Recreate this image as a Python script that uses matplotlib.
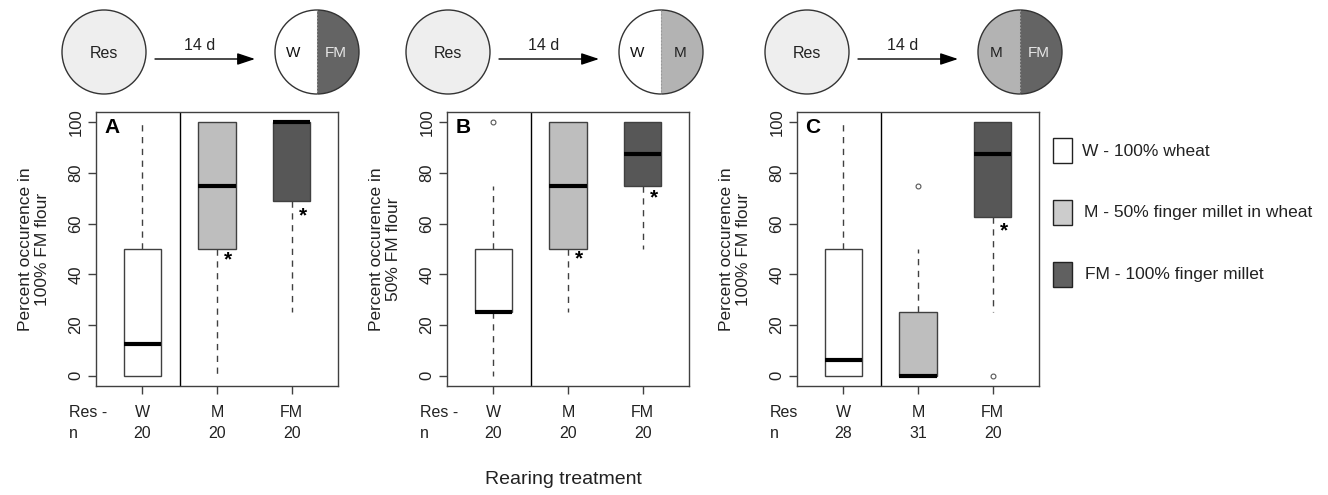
import matplotlib
matplotlib.use('Agg')
import matplotlib.pyplot as plt
from matplotlib import patches
import matplotlib.transforms as mtransforms

plt.rcParams['font.family'] = ['Liberation Sans', 'DejaVu Sans']

# ---- data ----
groups = ['W', 'M', 'FM']
panel_letters = ['A', 'B', 'C']
ylabels = ['Percent occurence in\n100% FM flour',
           'Percent occurence in\n50% FM flour',
           'Percent occurence in\n100% FM flour']
res_labels = ['Res -', 'Res -', 'Res']
target_labels = [('W', 'FM'), ('W', 'M'), ('M', 'FM')]

n_A = [20, 20, 20]
n_B = [20, 20, 20]
n_C = [28, 31, 20]

a_whislo = [0, 0, 25]
a_q1 = [0, 50, 68.75]
a_med = [12.5, 75, 100]
a_q3 = [50, 100, 100]
a_whishi = [100, 100, 100]
a_fliers = [[], [], []]
a_star = [None, 45.7, 63]

b_whislo = [0, 25, 50]
b_q1 = [25, 50, 75]
b_med = [25, 75, 87.5]
b_q3 = [50, 100, 100]
b_whishi = [75, 100, 100]
b_fliers = [[100], [], []]
b_star = [None, 46, 70]

c_whislo = [0, 0, 25]
c_q1 = [0, 0, 62.5]
c_med = [6.25, 0, 87.5]
c_q3 = [50, 25, 100]
c_whishi = [100, 50, 100]
c_fliers = [[], [75], [0]]
c_star = [None, None, 57]

legend_labels = ['W - 100% wheat', 'M - 50% finger millet in wheat',
                 'FM - 100% finger millet']

# ---- styles ----
box_colors = {'W': 'white', 'M': '#bebebe', 'FM': '#575757'}
legend_colors = ['white', '#cccccc', '#606060']
circle_colors = {'W': 'white', 'M': '#b3b3b3', 'FM': '#646464'}
circle_text = {'W': '#111111', 'M': '#222222', 'FM': '#e6e6e6'}
edge = '#404040'

W, H = 1328, 495
fig = plt.figure(figsize=(W / 100, H / 100), dpi=100)

# pixel overlay for the schematic and legend
ov = fig.add_axes([0, 0, 1, 1])
ov.set_xlim(0, W)
ov.set_ylim(H, 0)
ov.axis('off')

panel_left = [96, 447, 797]
panel_w = 242
ax_top, ax_bot = 112, 386
res_x = [104, 448, 807]

panels = [
    (a_whislo, a_q1, a_med, a_q3, a_whishi, a_fliers, a_star, n_A),
    (b_whislo, b_q1, b_med, b_q3, b_whishi, b_fliers, b_star, n_B),
    (c_whislo, c_q1, c_med, c_q3, c_whishi, c_fliers, c_star, n_C),
]

for p, (wlo, q1, med, q3, whi, fl, star, nn) in enumerate(panels):
    ax = fig.add_axes([panel_left[p] / W, (H - ax_bot) / H,
                       panel_w / W, (ax_bot - ax_top) / H])
    stats = [dict(whislo=wlo[i], q1=q1[i], med=med[i], q3=q3[i],
                  whishi=whi[i], fliers=fl[i]) for i in range(3)]
    bp = ax.bxp(stats, positions=[1, 2, 3], widths=0.5, patch_artist=True,
                showcaps=False,
                boxprops=dict(edgecolor=edge, linewidth=1),
                whiskerprops=dict(color=edge, linewidth=1, linestyle=(0, (4.5, 4))),
                medianprops=dict(color='black', linewidth=3,
                                 solid_capstyle='butt'),
                flierprops=dict(marker='o', markersize=3.5,
                                markerfacecolor='white',
                                markeredgecolor='#555555',
                                markeredgewidth=0.8))
    for patch, g in zip(bp['boxes'], groups):
        patch.set_facecolor(box_colors[g])
    ax.axvline(1.5, color='black', linewidth=1)
    ax.set_xlim(0.38, 3.62)
    ax.set_ylim(-4, 104)
    ax.set_yticks([0, 20, 40, 60, 80, 100])
    ax.set_xticks([1, 2, 3])
    ax.set_xticklabels([])
    ax.tick_params(axis='both', length=6, width=1, color=edge,
                   labelsize=12, pad=3, labelcolor='#222222')
    ax.tick_params(axis='y', labelrotation=90)
    for lab in ax.get_yticklabels():
        lab.set_va('center')
    for s in ax.spines.values():
        s.set_color(edge)
        s.set_linewidth(1)
    ax.set_ylabel(ylabels[p], fontsize=12.5, linespacing=1.15,
                  color='#222222')
    ax.yaxis.set_label_coords(-0.19, 0.5)
    ax.text(0.035, 0.945, panel_letters[p], transform=ax.transAxes,
            fontsize=15, fontweight='bold', ha='left', va='center')
    for i in range(3):
        if star[i] is not None:
            ax.text(i + 1.15, star[i], '*', fontsize=15, fontweight='bold',
                    ha='center', va='center')
    tr = mtransforms.blended_transform_factory(ax.transData, ax.transAxes)
    ax.text(0.02, -0.095, res_labels[p], transform=tr, fontsize=11.5,
            ha='left', va='center', color='#222222')
    ax.text(0.02, -0.172, 'n', transform=tr, fontsize=11.5,
            ha='left', va='center', color='#222222')
    for i, g in enumerate(groups):
        ax.text(i + 1, -0.095, g, transform=tr, fontsize=11.5,
                ha='center', va='center', color='#222222')
        ax.text(i + 1, -0.172, str(nn[i]), transform=tr, fontsize=11.5,
                ha='center', va='center', color='#222222')

    # schematic above the panel
    cx, cy, r = res_x[p], 52, 42
    ov.add_patch(patches.Circle((cx, cy), r, facecolor='#eeeeee',
                                edgecolor='#333333', linewidth=1))
    ov.text(cx, cy + 1, 'Res', fontsize=11.5, ha='center', va='center',
            color='#222222')
    ov.add_patch(patches.FancyArrowPatch(
        (cx + 51, 59), (cx + 151, 59),
        arrowstyle='-|>,head_length=0.6,head_width=0.2',
        mutation_scale=18, color='black', linewidth=1, shrinkA=0, shrinkB=0))
    ov.text(cx + 96, 45, '14 d', fontsize=11.5, ha='center', va='center',
            color='#222222')
    tx = cx + 213
    lg, rg = target_labels[p]
    ov.add_patch(patches.Wedge((tx, cy), r, 90, 270,
                               facecolor=circle_colors[lg], edgecolor='none'))
    ov.add_patch(patches.Wedge((tx, cy), r, -90, 90,
                               facecolor=circle_colors[rg], edgecolor='none'))
    ov.add_patch(patches.Circle((tx, cy), r, facecolor='none',
                                edgecolor='#333333', linewidth=1))
    ov.plot([tx, tx], [cy - r, cy + r], color='#999999', linewidth=0.8,
            linestyle=(0, (1.5, 1.5)))
    ov.text(tx - 24, cy + 1, lg, fontsize=11, ha='center', va='center',
            color=circle_text[lg])
    ov.text(tx + 19, cy + 1, rg, fontsize=11, ha='center', va='center',
            color=circle_text[rg])

# legend
for k, (lab, col) in enumerate(zip(legend_labels, legend_colors)):
    yc = 150 + k * 62
    ov.add_patch(patches.Rectangle((1053, yc - 12.5), 19, 25, facecolor=col,
                                   edgecolor='#222222', linewidth=1))
    ov.text(1082 + k * 1.5, yc + 1, lab, fontsize=12.5, ha='left',
            va='center', color='#222222')

ov.text(563, 480, 'Rearing treatment', fontsize=14, ha='center',
        va='center', color='#222222')

fig.savefig('out.png', dpi=100)
